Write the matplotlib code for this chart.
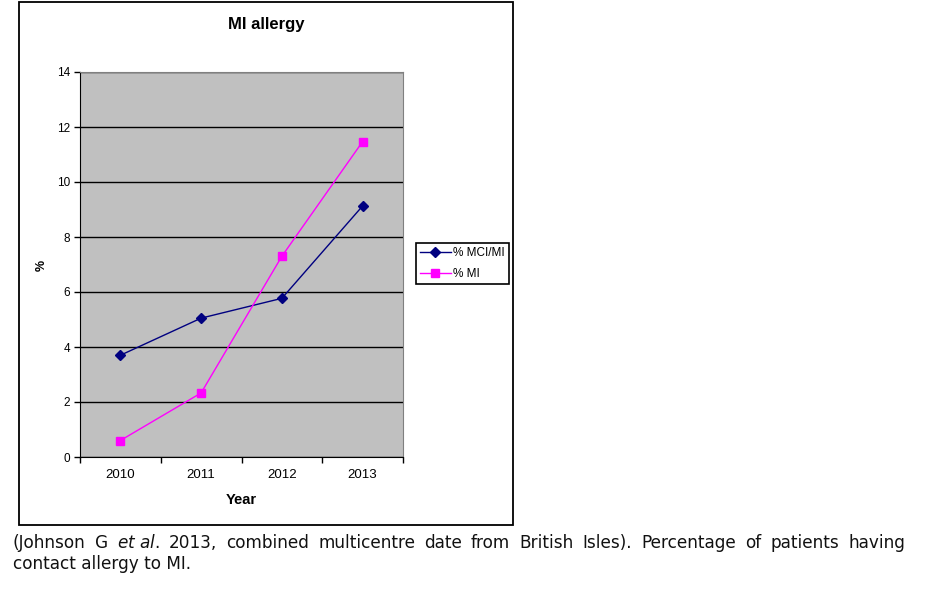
import matplotlib
matplotlib.use("Agg")
import matplotlib.pyplot as plt
from matplotlib.patches import Rectangle

# data
years = ["2010", "2011", "2012", "2013"]
mci_mi = [3.7, 5.05, 5.77, 9.13]
mi = [0.6, 2.33, 7.3, 11.47]
y_ticks = [0, 2, 4, 6, 8, 10, 12, 14]

caption_line1 = ["(Johnson", "G", "$et$ $al.$", "2013,", "combined", "multicentre", "date", "from",
                 "British", "Isles).", "Percentage", "of", "patients", "having"]
caption_line2 = "contact allergy to MI."

W, H = 944, 603
fig = plt.figure(figsize=(W / 100, H / 100), dpi=100)
fig.patch.set_facecolor("white")

# outer chart frame
fig.patches.append(Rectangle((19 / W, 1 - 525 / H), (513 - 19) / W, (525 - 2) / H,
                             transform=fig.transFigure, fill=False, edgecolor="black",
                             linewidth=1.3))

ax = fig.add_axes([80 / W, 1 - 457 / H, (403 - 80) / W, (457 - 72) / H])
ax.set_facecolor("#C0C0C0")

x = [i + 0.5 for i in range(len(years))]
ax.plot(x, mci_mi, color="#000080", marker="D", markersize=5, linewidth=1.0, label="% MCI/MI")
ax.plot(x, mi, color="#FF00FF", marker="s", markersize=5.5, linewidth=1.0, label="% MI")

ax.set_xlim(0, len(years))
ax.set_ylim(0, 14)
ax.set_yticks(y_ticks)
ax.set_xticks(range(len(years) + 1))
ax.set_xticklabels([])
ax.set_xticks(x, minor=True)
ax.set_xticklabels(years, minor=True)
ax.tick_params(axis="x", which="minor", length=0, pad=9, labelsize=9.5)
ax.tick_params(axis="x", which="major", length=4, width=1, color="black")
ax.tick_params(axis="y", length=4, width=1, labelsize=8.5, pad=3)
for lab in ax.get_xticklabels(minor=True) + ax.get_yticklabels():
    lab.set_family("Liberation Sans")

ax.grid(axis="y", color="black", linewidth=1)
ax.set_axisbelow(True)
for s in ["top", "right"]:
    ax.spines[s].set_color("#808080")
for s in ["left", "bottom"]:
    ax.spines[s].set_color("black")

ax.set_xlabel("Year", fontsize=10.5, fontweight="bold", family="Liberation Sans", labelpad=8)
fig.text(42 / W, 1 - 265 / H, "%", rotation=90, ha="center", va="center", fontsize=9,
         fontweight="bold", family="Liberation Sans")

fig.text(266 / W, 1 - 25 / H, "MI allergy", ha="center", va="center", fontsize=12,
         fontweight="bold", family="Liberation Sans")

leg = fig.legend(loc="upper left", bbox_to_anchor=(416 / W, 1 - 243 / H),
                 prop={"family": "Liberation Sans", "size": 8.5}, frameon=True,
                 fancybox=False, edgecolor="black", framealpha=1, borderpad=0.35,
                 handlelength=2.6, handletextpad=0.2, labelspacing=0.75, borderaxespad=0)
leg.get_frame().set_linewidth(1.2)

# caption, justified first line
renderer = fig.canvas.get_renderer()
left, right = 13, 905
cap_font = dict(fontsize=12.2, family="DejaVu Sans", color="#111111")
texts = [fig.text(0, 0, w, va="baseline", **cap_font) for w in caption_line1]
widths = [t.get_window_extent(renderer).width for t in texts]
gap = (right - left - sum(widths)) / (len(texts) - 1)
pos = left
for t, w in zip(texts, widths):
    t.set_position((pos / W, 1 - 548 / H))
    pos += w + gap
fig.text(left / W, 1 - 569 / H, caption_line2, va="baseline", **cap_font)

fig.savefig("out.png", dpi=100)
